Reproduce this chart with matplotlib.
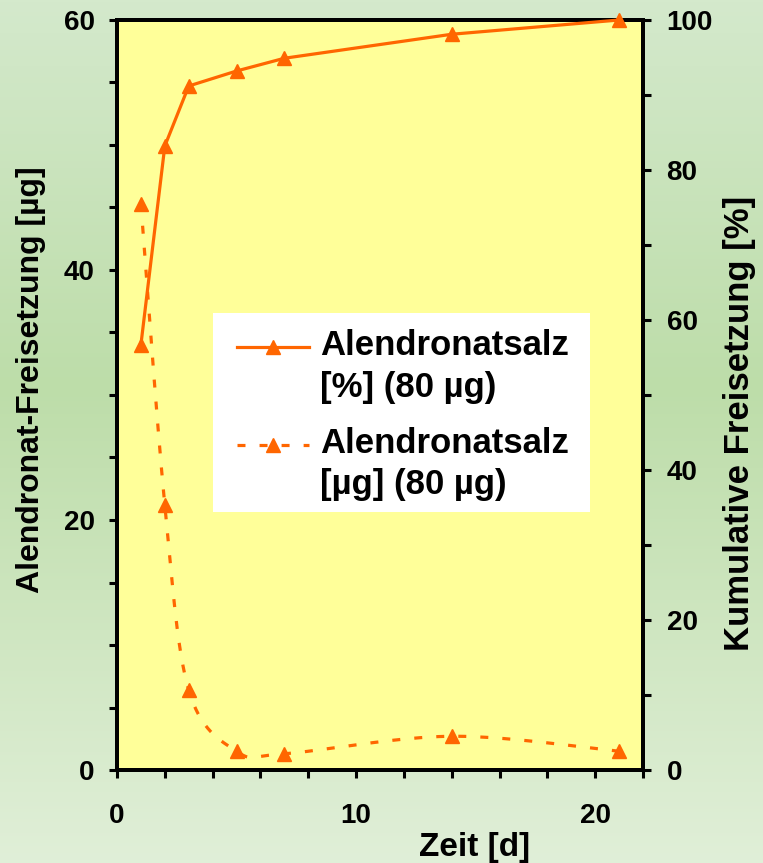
import numpy as np
import matplotlib
matplotlib.use("Agg")
import matplotlib.pyplot as plt
from matplotlib.lines import Line2D
from matplotlib.patches import Rectangle
from matplotlib.colors import LinearSegmentedColormap
from matplotlib.ticker import MultipleLocator

plt.rcParams['font.family'] = ['Liberation Sans', 'DejaVu Sans']
plt.rcParams['font.weight'] = 'bold'

# Release data (time in days)
days = [1, 2, 3, 5, 7, 14, 21]
cumulative_pct = [56.7, 83.2, 91.2, 93.2, 94.9, 98.1, 100.0]
release_ug = [45.3, 21.2, 6.4, 1.5, 1.3, 2.7, 1.5]

label_pct = ["Alendronatsalz", "[%] (80 µg)"]
label_ug = ["Alendronatsalz", "[µg] (80 µg)"]
xlabel = "Zeit [d]"
ylabel_left = "Alendronat-Freisetzung [µg]"
ylabel_right = "Kumulative Freisetzung [%]"

ORANGE = "#FF6600"
W, H = 763, 863


def smooth_curve(x, y, n=40):
    """Catmull-Rom style smoothing (cubic Bezier between points)."""
    x = np.asarray(x, float)
    y = np.asarray(y, float)
    px = np.concatenate([[x[0]], x, [x[-1]]])
    py = np.concatenate([[y[0]], y, [y[-1]]])
    xs, ys = [], []
    t = np.linspace(0, 1, n)
    for i in range(1, len(px) - 2):
        p0 = np.array([px[i - 1], py[i - 1]])
        p1 = np.array([px[i], py[i]])
        p2 = np.array([px[i + 1], py[i + 1]])
        p3 = np.array([px[i + 2], py[i + 2]])
        c1 = p1 + (p2 - p0) / 6.0
        c2 = p2 - (p3 - p1) / 6.0
        pts = ((1 - t) ** 3)[:, None] * p1 + (3 * (1 - t) ** 2 * t)[:, None] * c1 \
            + (3 * (1 - t) * t ** 2)[:, None] * c2 + (t ** 3)[:, None] * p2
        if i > 1:
            pts = pts[1:]
        xs.extend(pts[:, 0])
        ys.extend(pts[:, 1])
    return np.array(xs), np.array(ys)


def fx(px):
    return px / W


def fy(py):
    return 1 - py / H


fig = plt.figure(figsize=(W / 100, H / 100), dpi=100)

# Background gradient
bg = fig.add_axes([0, 0, 1, 1], zorder=-10)
cmap = LinearSegmentedColormap.from_list(
    "bg", [(0.0, "#d4e9cc"), (0.45, "#bddda9"), (1.0, "#e0efd8")])
grad = np.linspace(0, 1, 256)[:, None]
bg.imshow(grad, aspect="auto", cmap=cmap, extent=[0, 1, 0, 1])
bg.axis("off")

ax = fig.add_axes([fx(117), fy(770), fx(643) - fx(117), fy(20) - fy(770)])
ax.set_facecolor("#FFFF99")
ax2 = ax.twinx()

lw_line = 2.3
dash = (0, (2.5, 4.4))

sx, sy = smooth_curve(days, release_ug)
ax.plot(sx, sy, color=ORANGE, lw=lw_line, linestyle=dash, dash_capstyle="butt",
        zorder=5, clip_on=False)
ax.plot(days, release_ug, linestyle="none", marker="^", ms=9.5, color=ORANGE,
        zorder=6, clip_on=False)

ax2.plot(days, cumulative_pct, color=ORANGE, lw=lw_line, marker="^", ms=9.5,
         zorder=6, clip_on=False)

ax.set_xlim(0, 22)
ax.set_ylim(0, 60)
ax2.set_ylim(0, 100)

ax.xaxis.set_major_locator(MultipleLocator(10))
ax.xaxis.set_minor_locator(MultipleLocator(2))
ax.yaxis.set_major_locator(MultipleLocator(20))
ax.yaxis.set_minor_locator(MultipleLocator(5))
ax2.yaxis.set_major_locator(MultipleLocator(20))
ax2.yaxis.set_minor_locator(MultipleLocator(10))

for a in (ax, ax2):
    for s in a.spines.values():
        s.set_linewidth(2.8)
        s.set_color("black")
    a.tick_params(which="both", direction="out", length=6, width=2.2,
                  labelsize=20, color="black")

ax.tick_params(axis="y", which="major", pad=10)
ax.tick_params(axis="x", which="major", pad=18)
ax2.tick_params(axis="y", which="major", pad=11)
for lab in ax.get_xticklabels() + ax.get_yticklabels() + ax2.get_yticklabels():
    lab.set_fontweight("bold")

# Axis titles
fig.text(fx(475), fy(847), xlabel, ha="center", va="center", fontsize=24,
         fontweight="bold")
fig.text(fx(31), fy(380), ylabel_left, ha="center", va="center", fontsize=23,
         fontweight="bold", rotation=90)
fig.text(fx(740), fy(423), ylabel_right, ha="center", va="center", fontsize=25,
         fontweight="bold", rotation=90)

# Legend box
fig.add_artist(Rectangle((fx(213), fy(512)), fx(590) - fx(213), fy(313) - fy(512),
                         transform=fig.transFigure, facecolor="white",
                         edgecolor="none", zorder=10))

x0, x1 = fx(237), fx(309)
xm = (x0 + x1) / 2
fig.add_artist(Line2D([x0, xm, x1], [fy(347)] * 3, transform=fig.transFigure,
                      color=ORANGE, lw=lw_line, marker="^", ms=9.5,
                      markevery=[1], zorder=11))
fig.add_artist(Line2D([x0, x1], [fy(445)] * 2, transform=fig.transFigure,
                      color=ORANGE, lw=lw_line, linestyle=dash,
                      dash_capstyle="butt", zorder=11))
fig.add_artist(Line2D([xm], [fy(445)], transform=fig.transFigure,
                      color=ORANGE, linestyle="none", marker="^", ms=9.5,
                      zorder=12))

for text, base in zip(label_pct + label_ug, [355, 397, 453, 494]):
    t = fig.text(fx(320), fy(base), text, ha="left", va="baseline",
                 fontsize=25, fontweight="bold", zorder=12)

fig.savefig("out.png", dpi=100)
